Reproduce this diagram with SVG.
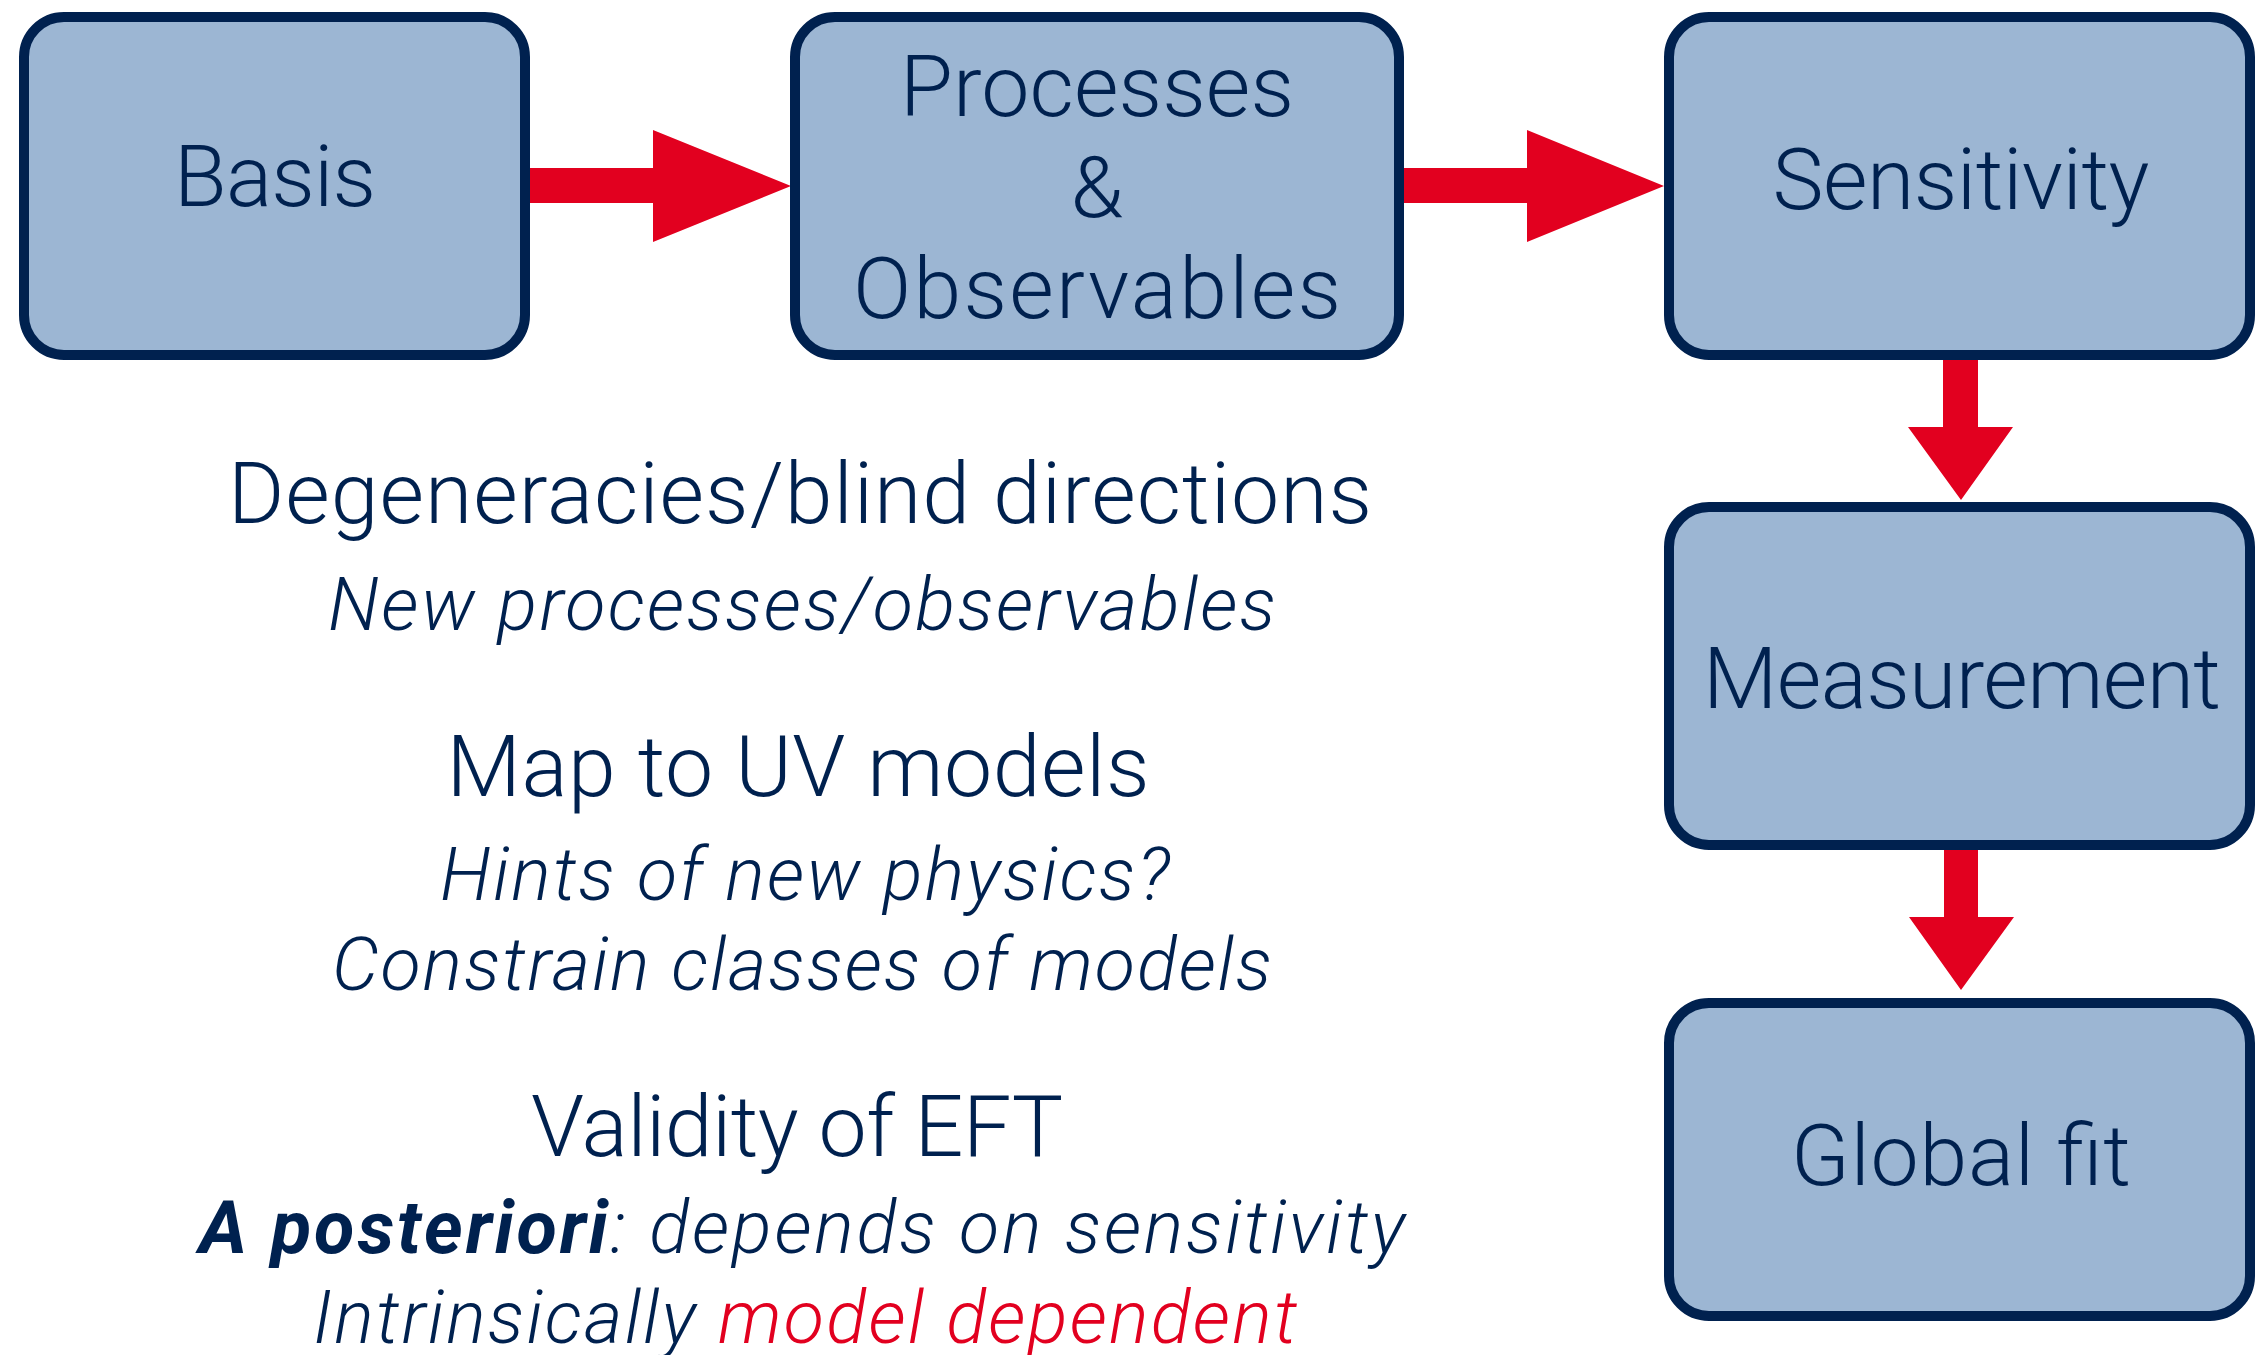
<svg xmlns="http://www.w3.org/2000/svg" width="2259" height="1355" viewBox="0 0 2259 1355">
<style>
.box{fill:#9CB6D3;stroke:#00214F;stroke-width:10}
.arrow{fill:#E2001F}
text{font-family:Roboto,"Helvetica Neue","Liberation Sans",sans-serif;fill:#00214F;text-anchor:middle}
.lbl{font-size:86px;font-weight:300}
.sub{font-size:74px;font-weight:300;font-style:italic}
.b{font-weight:700}
.red{fill:#E2001F}
</style>
<rect width="2259" height="1355" fill="#FFFFFF"/>
<g id="connectors">
<polygon class="arrow" points="522,168 653,168 653,130 791,186 653,242 653,203 522,203"/>
<polygon class="arrow" points="1396,168 1527,168 1527,130 1664,186 1527,242 1527,203 1396,203"/>
<polygon class="arrow" points="1943,352 1978,352 1978,427 2013,427 1961,500 1908,427 1943,427"/>
<polygon class="arrow" points="1944,842 1978,842 1978,917 2014,917 1961,990 1909,917 1944,917"/>
</g>
<g id="basis">
<rect class="box" x="24" y="17" width="501" height="338" rx="40"/>
<text class="lbl" x="275" y="206" textLength="202" lengthAdjust="spacing">Basis</text>
</g>
<g id="processes">
<rect class="box" x="795" y="17" width="604" height="338" rx="40"/>
<text class="lbl" x="1097" y="116" textLength="394" lengthAdjust="spacing">Processes</text>
<text class="lbl" x="1097" y="217">&amp;</text>
<text class="lbl" x="1097" y="318" textLength="488" lengthAdjust="spacing">Observables</text>
</g>
<g id="sensitivity">
<rect class="box" x="1669" y="17" width="581" height="338" rx="40"/>
<text class="lbl" x="1961" y="209" textLength="377" lengthAdjust="spacing">Sensitivity</text>
</g>
<g id="measurement">
<rect class="box" x="1669" y="507" width="581" height="338" rx="40"/>
<text class="lbl" x="1962" y="708" textLength="518" lengthAdjust="spacing">Measurement</text>
</g>
<g id="globalfit">
<rect class="box" x="1669" y="1003" width="581" height="313" rx="40"/>
<text class="lbl" x="1961" y="1185" textLength="340" lengthAdjust="spacing">Global fit</text>
</g>
<g id="notes">
<text class="lbl" x="800" y="523" textLength="1144" lengthAdjust="spacing">Degeneracies/blind directions</text>
<text class="sub" x="802" y="630" textLength="948" lengthAdjust="spacing">New processes/observables</text>
<text class="lbl" x="798" y="796" textLength="703" lengthAdjust="spacing">Map to UV models</text>
<text class="sub" x="805" y="900" textLength="730" lengthAdjust="spacing">Hints of new physics?</text>
<text class="sub" x="802" y="990" textLength="940" lengthAdjust="spacing">Constrain classes of models</text>
<text class="lbl" x="797" y="1156" textLength="532" lengthAdjust="spacing">Validity of EFT</text>
<text class="sub" x="802" y="1253" textLength="1206" lengthAdjust="spacing"><tspan class="b">A posteriori</tspan>: depends on sensitivity</text>
<text class="sub" x="805" y="1343" textLength="984" lengthAdjust="spacing">Intrinsically <tspan class="red">model dependent</tspan></text>
</g>
</svg>
